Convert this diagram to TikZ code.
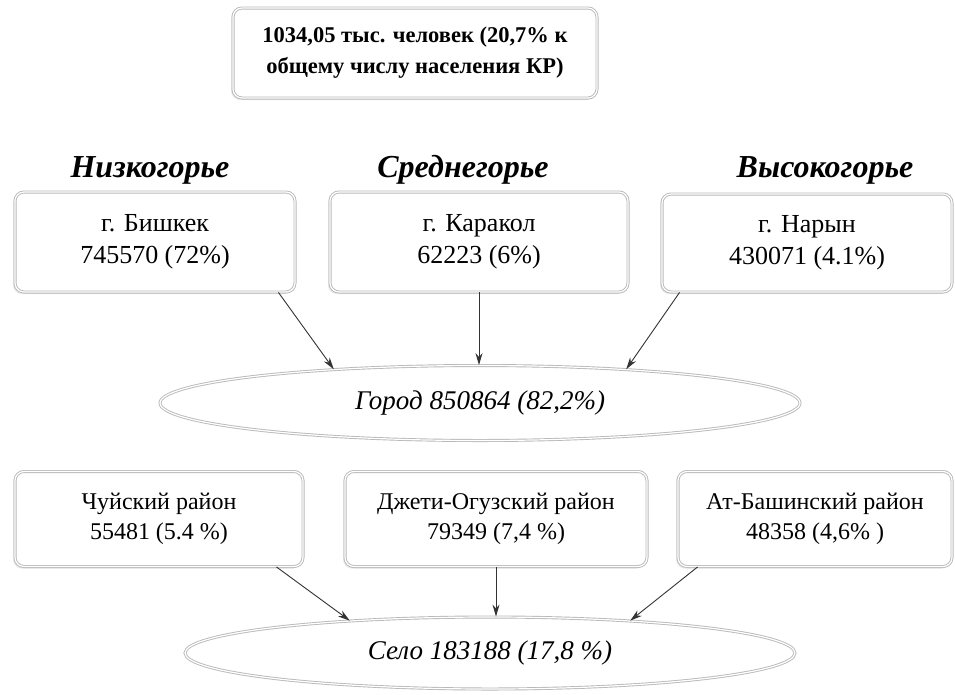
\documentclass[tikz,border=0pt]{standalone}
\usepackage{fontspec}
\setmainfont{LiberationSerif}[
  Extension=.ttf,
  UprightFont=*-Regular,
  BoldFont=*-Bold,
  ItalicFont=*-Italic,
  BoldItalicFont=*-BoldItalic]
\usepackage{tikz}
\usetikzlibrary{shapes.geometric,arrows.meta,calc,shadows}
\tikzstyle{chart}=[
  x=1pt,y=-1pt,>={Stealth[length=12pt,width=7pt]},font=\fontsize{25}{32}\selectfont
]
\tikzstyle{framebox}=[
  draw=gray!55,double=white,double distance=1.2pt,line width=0.9pt,
  rounded corners=9pt,fill=white,align=center,
  drop shadow={opacity=0.18,shadow xshift=-2pt,shadow yshift=-2pt}
]
\tikzstyle{topbox}=[
  framebox,minimum width=364pt,minimum height=90pt,
  font=\fontsize{22.5}{31}\selectfont\bfseries
]
\tikzstyle{citybox}=[
  framebox,minimum height=100pt,font=\fontsize{26}{32}\selectfont
]
\tikzstyle{districtbox}=[
  framebox,minimum height=95pt,font=\fontsize{24}{30}\selectfont
]
\tikzstyle{zone}=[
  font=\fontsize{32}{34}\selectfont\bfseries\itshape
]
\tikzstyle{total}=[
  draw=gray!55,double=white,double distance=1.2pt,line width=0.9pt,
  ellipse,inner sep=0pt,font=\fontsize{27}{30}\selectfont\itshape
]
\tikzstyle{link}=[
  ->,line width=0.9pt,black!80
]

\begin{document}
\begin{tikzpicture}[chart]
  \useasboundingbox (0,0) rectangle (955,694);
  \fill[white] (0,0) rectangle (955,694);

  % top summary
  \node (people) at (415,53) [topbox] {1034,05 тыс. человек (20,7\% к\\общему числу населения КР)};

  % altitude zones
  \node (low) at (150,170) [zone] {Низкогорье};
  \node (mid) at (463,170) [zone] {Среднегорье};
  \node (high) at (825,170) [zone] {Высокогорье};

  % towns
  \node (bishkek) at (155,242) [citybox,minimum width=280pt] {г. Бишкек\\745570 (72\%)};
  \node (karakol) at (479,242) [citybox,minimum width=298pt] {г. Каракол\\62223 (6\%)};
  \node (naryn) at (807,243) [citybox,minimum width=290pt,minimum height=98pt] {г. Нарын\\430071 (4.1\%)};
  \node (town) at (480,403) [total,minimum width=640pt,minimum height=75pt] {Город 850864 (82,2\%)};

  % districts
  \node (chuy) at (159,519) [districtbox,minimum width=288pt] {Чуйский район\\55481 (5.4 \%)};
  \node (oguz) at (496,519) [districtbox,minimum width=302pt] {Джети-Огузский район\\79349 (7,4 \%)};
  \node (atbashy) at (815,519) [districtbox,minimum width=274pt] {Ат-Башинский район\\48358 (4,6\% )};
  \node (village) at (490,653) [total,minimum width=610pt,minimum height=72pt] {Село 183188 (17,8 \%)};

  \draw [link] ($(bishkek.south east)+(-17,0)$) -- (town.167);
  \draw [link] (karakol.south) -- (karakol.south |- town.north);
  \draw [link] ($(naryn.south west)+(18,0)$) -- (town.13);
  \draw [link] ($(chuy.south east)+(-27,0)$) -- (village.167);
  \draw [link] (oguz.south) -- (oguz.south |- village.north);
  \draw [link] ($(atbashy.south west)+(20,0)$) -- (village.13);
\end{tikzpicture}
\end{document}
